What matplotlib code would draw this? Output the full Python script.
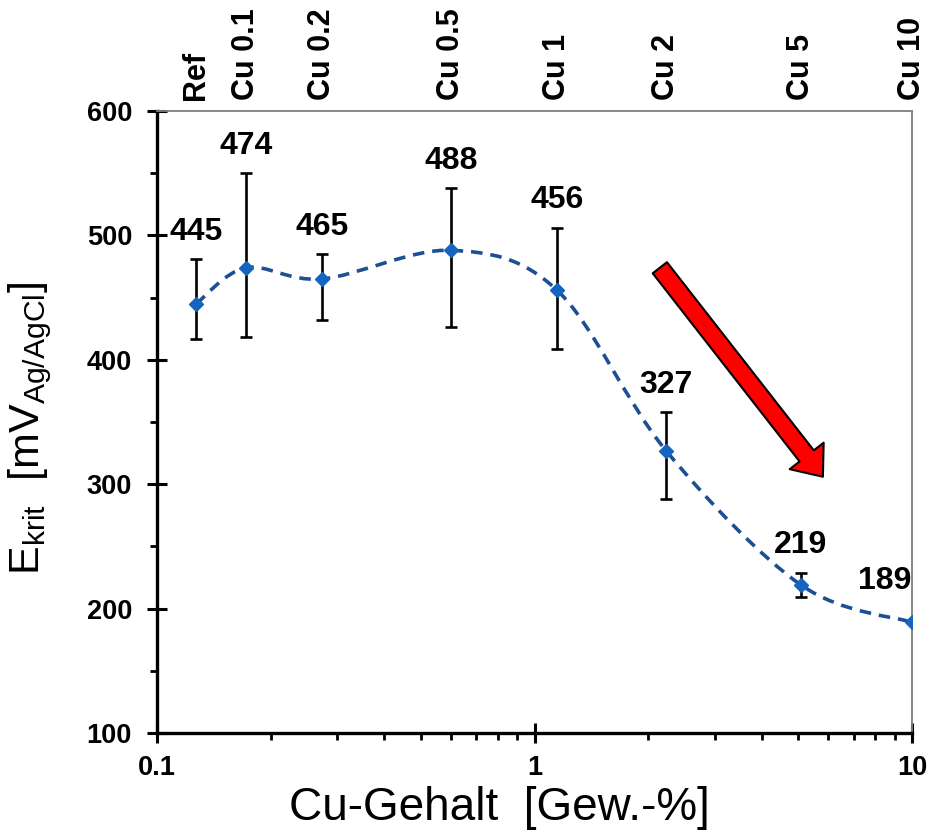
import numpy as np
import matplotlib
matplotlib.use("Agg")
import matplotlib.pyplot as plt
from matplotlib.path import Path
from matplotlib.patches import PathPatch
from matplotlib.ticker import FixedLocator, NullFormatter

plt.rcParams['font.family'] = ['Liberation Sans', 'DejaVu Sans']
plt.rcParams['mathtext.fontset'] = 'custom'
plt.rcParams['mathtext.rm'] = 'Liberation Sans'
plt.rcParams['mathtext.it'] = 'Liberation Sans'

# Cu content of the alloys and critical potential
names = ["Ref", "Cu 0.1", "Cu 0.2", "Cu 0.5", "Cu 1", "Cu 2", "Cu 5", "Cu 10"]
cu = [0.127, 0.172, 0.274, 0.601, 1.147, 2.23, 5.08, 10.0]
e_krit = [445, 474, 465, 488, 456, 327, 219, 189]
err_hi = [36, 76, 20, 50, 50, 31, 10, 0]
err_lo = [28, 56, 33, 62, 47, 39, 10, 0]

line_col = "#1d4f95"
mark_col = "#1565c0"

fig = plt.figure(figsize=(9.38, 8.34), dpi=100)
ax = fig.add_axes([157 / 938, 101 / 834, 755 / 938, 622 / 834])
ax.set_xscale("log")
ax.set_xlim(0.1, 10)
ax.set_ylim(100, 600)


def smooth_path(xs, ys, k=303.5):
    # excel-like smoothed line: cubic bezier segments built on log-x / y
    u = np.log10(xs) * k
    v = np.asarray(ys, dtype=float)
    pts = np.column_stack([u, v])
    pad = np.vstack([pts[0], pts, pts[-1]])
    verts = [pts[0]]
    codes = [Path.MOVETO]
    for i in range(len(pts) - 1):
        p0, p1, p2, p3 = pad[i], pad[i + 1], pad[i + 2], pad[i + 3]
        c1 = p1 + (p2 - p0) / 6
        c2 = p2 - (p3 - p1) / 6
        verts += [c1, c2, p2]
        codes += [Path.CURVE4] * 3
    verts = np.array(verts)
    verts[:, 0] = 10 ** (verts[:, 0] / k)
    return Path(verts, codes)


ax.errorbar(cu, e_krit, yerr=[err_lo, err_hi], fmt="none", ecolor="black",
            elinewidth=1.9, capsize=4, capthick=1.9, zorder=2)
ax.add_patch(PathPatch(smooth_path(cu, e_krit), fill=False, ec=line_col,
                       lw=2.6, ls=(0, (3.2, 2.2)), zorder=3))
ax.plot(cu, e_krit, "D", ms=7, color=mark_col, zorder=4)

for xv, yv, eh in zip(cu, e_krit, err_hi):
    if eh > 0:
        ax.annotate(str(yv), (xv, yv + eh), xytext=(0, 9), textcoords="offset points",
                    ha="center", va="bottom", fontsize=23, fontweight="bold")
    else:
        ax.annotate(str(yv), (xv, yv), xytext=(-20, 19), textcoords="offset points",
                    ha="center", va="bottom", fontsize=23, fontweight="bold")

# red trend arrow
ax.annotate("", xy=(0.882, 0.412), xytext=(0.666, 0.748), xycoords="axes fraction",
            arrowprops=dict(arrowstyle="simple,tail_width=1.3,head_width=3.1,head_length=1.9",
                            mutation_scale=10, fc="#ff0000", ec="black", lw=1.5,
                            shrinkA=0, shrinkB=0), zorder=5)

# axes styling
for s in ("left", "bottom"):
    ax.spines[s].set_linewidth(2.4)
    ax.spines[s].set_color("black")
for s in ("top", "right"):
    ax.spines[s].set_linewidth(1.3)
    ax.spines[s].set_color("#7f7f7f")

ax.set_xticks([0.1, 1, 10])
ax.set_xticklabels(["0.1", "1", "10"])
ax.xaxis.set_minor_locator(FixedLocator([a * b for b in (0.1, 1) for a in range(2, 10)]))
ax.xaxis.set_minor_formatter(NullFormatter())
ax.set_yticks([100, 200, 300, 400, 500, 600])
ax.yaxis.set_minor_locator(FixedLocator([150, 250, 350, 450, 550]))
ax.tick_params(which="major", direction="inout", length=14, width=2.2, labelsize=19.5,
               top=False, right=False)
ax.tick_params(which="minor", direction="out", length=5, width=2.0, top=False, right=False)
ax.tick_params(axis="y", which="major", pad=11)
ax.tick_params(axis="x", which="major", pad=9)
for lab in ax.get_xticklabels() + ax.get_yticklabels():
    lab.set_fontweight("bold")

ax.set_xlabel("Cu-Gehalt  [Gew.-%]", fontsize=33)
ax.xaxis.set_label_coords(0.454, -0.085)
ax.set_ylabel(r"$\mathrm{E_{krit}}$  [mV$_\mathrm{Ag/AgCl}$]", fontsize=31)
ax.yaxis.set_label_coords(-0.137, 0.49)

# alloy names along the top
ax2 = ax.twiny()
ax2.set_xscale("log")
ax2.set_xlim(0.1, 10)
ax2.set_xticks(cu)
ax2.set_xticklabels(names, rotation=90, fontsize=22, fontweight="bold")
ax2.xaxis.set_minor_locator(FixedLocator([]))
ax2.tick_params(axis="x", which="major", length=0, pad=8)
for s in ax2.spines.values():
    s.set_visible(False)

fig.savefig("out.png", dpi=100)
